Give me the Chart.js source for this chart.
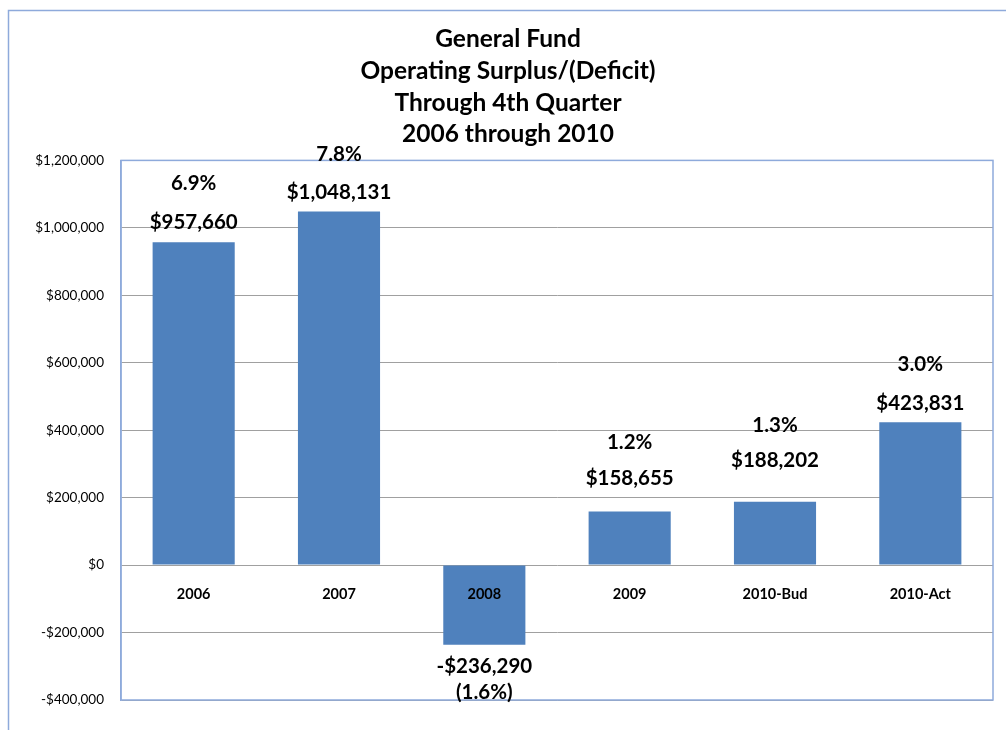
<!DOCTYPE html>
<html>
<head>
<meta charset="utf-8">
<script src="https://cdn.jsdelivr.net/npm/chart.js@4/dist/chart.umd.min.js"></script>
<style>
  body { margin: 0; background: #fff; }
  canvas { display: block; }
</style>
</head>
<body>
<canvas id="fundChart" width="1006" height="730"></canvas>
<script>
const categories = ['2006', '2007', '2008', '2009', '2010-Bud', '2010-Act'];
const surplus = [957660, 1048131, -236290, 158655, 188202, 423831];
const pctOfBudget = [6.9, 7.8, -1.6, 1.2, 1.3, 3.0];
const yTicks = [-400000, -200000, 0, 200000, 400000, 600000, 800000, 1000000, 1200000];

// hand-placed label offsets from the bar end, in px: [amount, percent]
const labelOffsets = [[-20, -59], [-19, -57], [22, 48], [-33, -69], [-41, -76], [-19, -58]];

const BAR_BLUE = '#4f81bd';
const FRAME_BLUE = '#8eaadb';

function money(v) {
    const s = '$' + Math.abs(v).toLocaleString('en-US');
    return v < 0 ? '-' + s : s;
}
function pct(p) {
    const s = Math.abs(p).toFixed(1) + '%';
    return p < 0 ? '(' + s + ')' : s;
}

// blue frames: the outer chart border and the plot area border
const frames = {
    id: 'frames',
    beforeDatasetsDraw(chart) {
        const ctx = chart.ctx;
        const a = chart.chartArea;
        ctx.save();
        ctx.strokeStyle = FRAME_BLUE;
        ctx.lineWidth = 1.5;
        ctx.strokeRect(8.5, 10.5, 1200, 900);
        ctx.strokeRect(a.left, a.top, a.right - a.left, a.bottom - a.top);
        ctx.restore();
    }
};

// amount and percent labels over (or under) each bar
const barLabels = {
    id: 'barLabels',
    afterDatasetsDraw(chart) {
        const ctx = chart.ctx;
        const meta = chart.getDatasetMeta(0);
        ctx.save();
        ctx.fillStyle = '#000';
        ctx.textAlign = 'center';
        ctx.textBaseline = 'middle';
        ctx.font = 'bold 20.5px Lato';
        meta.data.forEach((bar, i) => {
            const [offV, offP] = labelOffsets[i];
            ctx.fillText(money(surplus[i]), bar.x, bar.y + offV);
            ctx.fillText(pct(pctOfBudget[i]), bar.x, bar.y + offP);
        });
        ctx.restore();
    }
};

new Chart(document.getElementById('fundChart'), {
    type: 'bar',
    data: {
        labels: categories,
        datasets: [{
            data: surplus,
            backgroundColor: BAR_BLUE,
            borderWidth: 0,
            categoryPercentage: 1,
            barPercentage: 0.565
        }]
    },
    plugins: [frames, barLabels],
    options: {
        responsive: false,
        animation: false,
        layout: { padding: { left: 23, right: 13, top: 0, bottom: 30 } },
        plugins: {
            legend: { display: false },
            tooltip: { enabled: false },
            title: {
                display: true,
                text: ['General Fund', 'Operating Surplus/(Deficit)', 'Through 4th Quarter', '2006 through 2010'],
                color: '#000',
                font: { family: 'Lato', size: 24.5, weight: 'bold', lineHeight: 1.3 },
                padding: { top: 23, bottom: 10 }
            }
        },
        scales: {
            x: {
                position: { y: 0 },
                grid: { display: false },
                border: { display: false },
                ticks: {
                    z: 1,
                    padding: 13,
                    color: '#000',
                    font: { family: 'Lato', size: 14.5, weight: 'bold' }
                }
            },
            y: {
                min: -400000,
                max: 1200000,
                afterBuildTicks(scale) {
                    scale.ticks = yTicks.map(v => ({ value: v }));
                },
                afterFit(scale) {
                    scale.width = 98;
                },
                grid: { color: '#a0a0a0', lineWidth: 1, drawTicks: false },
                border: { display: true, color: FRAME_BLUE, width: 1.5 },
                ticks: {
                    padding: 17,
                    color: '#000',
                    font: { family: 'Lato', size: 13.5 },
                    callback: v => money(v)
                }
            }
        }
    }
});
</script>
</body>
</html>
